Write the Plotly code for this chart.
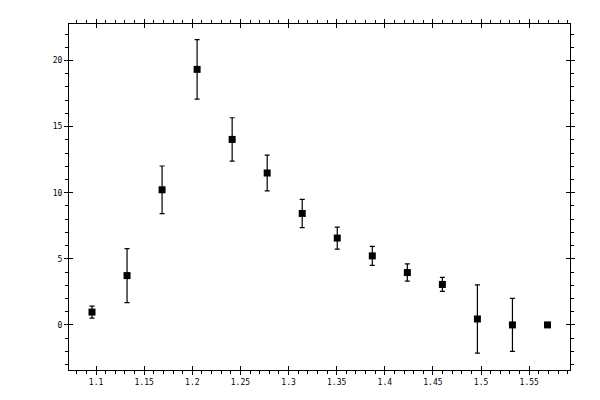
import plotly.graph_objects as go

x_vals = [1.0958, 1.1322, 1.1686, 1.2050, 1.2414, 1.2778, 1.3142,
          1.3506, 1.3870, 1.4234, 1.4598, 1.4962, 1.5326, 1.5690]
y_vals = [0.97, 3.73, 10.22, 19.33, 14.03, 11.49, 8.43,
          6.57, 5.22, 3.96, 3.06, 0.45, 0.0, 0.0]
y_err = [0.45, 2.04, 1.80, 2.25, 1.64, 1.35, 1.07,
         0.83, 0.72, 0.65, 0.53, 2.58, 2.00, 0.0]

x_range = [1.0719, 1.5924]
y_range = [-3.41, 22.76]
font = dict(family="DejaVu Sans Mono", size=8, color="black")

fig = go.Figure()
fig.add_trace(go.Scatter(
    x=x_vals, y=y_vals, mode="markers",
    marker=dict(symbol="square", size=7, color="black"),
    error_y=dict(type="data", array=y_err, visible=True,
                 color="black", thickness=1.2, width=2.5),
    showlegend=False, hoverinfo="skip"))
# invisible trace for overlay axes (inside half of major ticks)
fig.add_trace(go.Scatter(x=[x_range[0]], y=[y_range[0]], mode="markers",
                         marker=dict(opacity=0), xaxis="x2", yaxis="y2",
                         showlegend=False, hoverinfo="skip"))

common = dict(showgrid=False, zeroline=False, showline=True, linecolor="black",
              linewidth=1, mirror="ticks", ticks="outside", ticklen=4,
              tickcolor="black", tickwidth=1, tickfont=font)

fig.update_layout(
    width=600, height=400,
    margin=dict(l=61, r=38, t=11, b=38),
    paper_bgcolor="white", plot_bgcolor="white",
    xaxis=dict(range=x_range, tick0=1.1, dtick=0.05, tickformat="~g",
               minor=dict(dtick=0.01, ticks="outside", ticklen=3,
                          tickcolor="black", showgrid=False),
               **common),
    yaxis=dict(range=y_range, tick0=0, dtick=5,
               minor=dict(dtick=1, ticks="outside", ticklen=3,
                          tickcolor="black", showgrid=False),
               **common),
    xaxis2=dict(range=x_range, overlaying="x", anchor="y2", tick0=1.1, dtick=0.05,
                showgrid=False, zeroline=False, showline=False, mirror="ticks",
                ticks="inside", ticklen=4, tickcolor="black", tickwidth=1,
                showticklabels=False),
    yaxis2=dict(range=y_range, overlaying="y", anchor="x2", tick0=0, dtick=5,
                showgrid=False, zeroline=False, showline=False, mirror="ticks",
                ticks="inside", ticklen=4, tickcolor="black", tickwidth=1,
                showticklabels=False),
)

fig.write_html("out.html")
